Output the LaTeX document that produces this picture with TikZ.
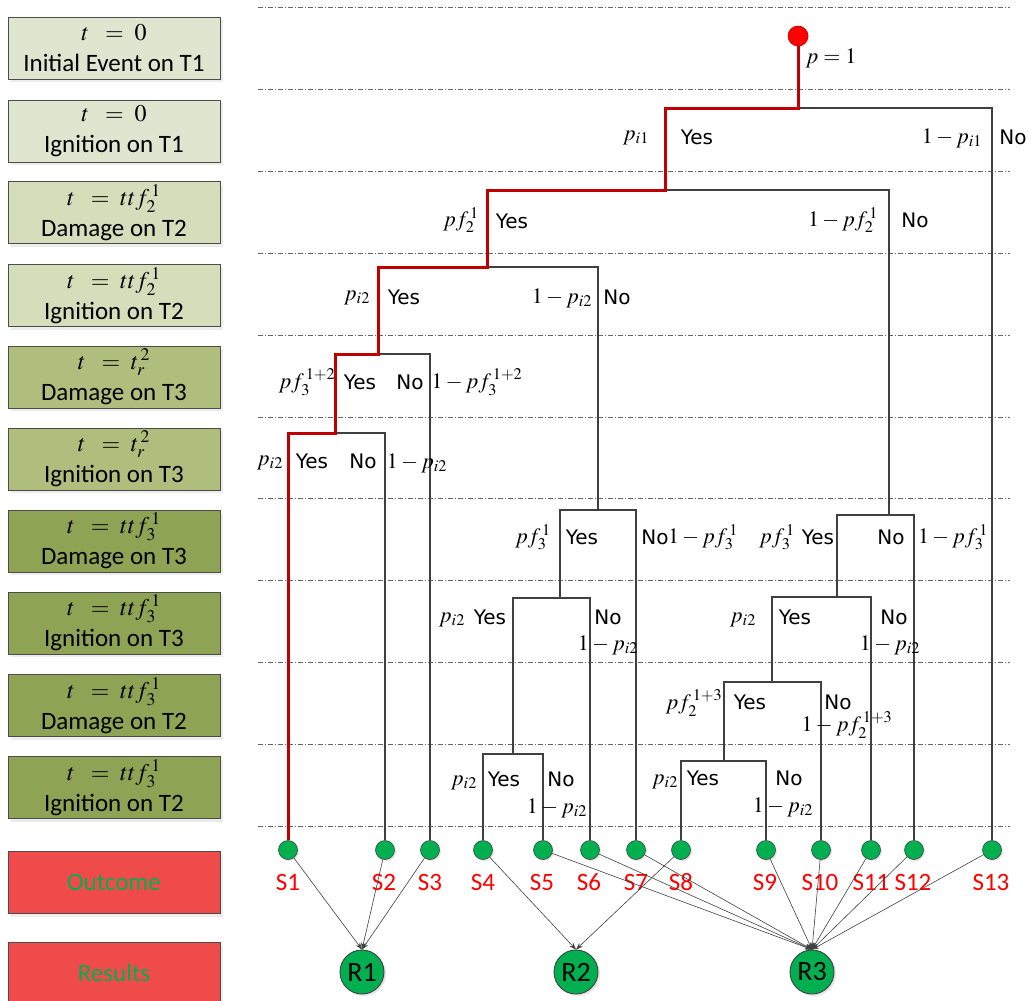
\documentclass[tikz,border=0pt]{standalone}
\usepackage{mathptmx}
\usepackage{fontspec}
\newfontfamily\calfont{Carlito}
\newfontfamily\yesfont{DejaVu Sans}
\usetikzlibrary{arrows.meta,shadows}
\definecolor{lc}{HTML}{404040}
\definecolor{rc}{HTML}{C00000}
\definecolor{ba}{HTML}{DFE5CF}
\definecolor{bb}{HTML}{D5DDBA}
\definecolor{bc}{HTML}{AFBE7C}
\definecolor{bd}{HTML}{8FA355}
\definecolor{rr}{HTML}{F04B4B}
\definecolor{gc}{HTML}{00B050}
\newcommand{\mth}[1]{{\fontsize{24}{26}\selectfont$#1$}}
\begin{document}
\begin{tikzpicture}[x=1pt,y=-1pt,
 dline/.style={draw=black!60, line width=0.7pt, dash pattern=on 5pt off 2pt on 1pt off 2pt},
 br/.style={draw=lc, line width=2pt},
 rb/.style={draw=rc, line width=3pt, line join=miter},
 lbox/.style={draw=black!70, line width=0.8pt, minimum width=212pt, minimum height=62pt, inner sep=0pt, align=center, font=\calfont\fontsize{25}{27}\selectfont, drop shadow={shadow xshift=3pt,shadow yshift=-3pt,fill=black!15}},
 ml/.style={inner sep=0pt, font=\fontsize{22}{24}\selectfont},
 yl/.style={inner sep=0pt, font=\yesfont\fontsize{20}{22}\selectfont},
 sn/.style={circle, draw=lc, fill=gc, minimum size=19pt, inner sep=0pt, line width=0.6pt, drop shadow={shadow xshift=1.5pt,shadow yshift=-1.5pt,fill=black!20}},
 sl/.style={inner sep=0pt, text=red, font=\calfont\fontsize{25}{26}\selectfont},
 rn/.style={circle, draw=lc, fill=gc, minimum size=44pt, inner sep=0pt, line width=0.9pt, font=\calfont\fontsize{28}{29}\selectfont, drop shadow={shadow xshift=2pt,shadow yshift=-2pt,fill=black!20}},
 arr/.style={draw=lc, line width=0.6pt, -{Stealth[length=7pt,width=5pt]}}
]
\useasboundingbox (0,0) rectangle (1029,1001);
% dash-dot level lines
\foreach \yy in {7,89,171,253,335,417,498,580,662,744,826}
  \draw[dline] (258,\yy) -- (1010,\yy);

% left column boxes
\node[lbox, fill=ba] (b1) at (114,48) {\mth{t\;\;=\;0}\\[4pt]Initial Event on T1};
\node[lbox, fill=ba] (b2) at (114,131) {\mth{t\;\;=\;0}\\[4pt]Ignition on T1};
\node[lbox, fill=bb] (b3) at (114,212.5) {\mth{t\;\;=\;ttf_{2}^{\,1}}\\[4pt]Damage on T2};
\node[lbox, fill=bb] (b4) at (114,295.5) {\mth{t\;\;=\;ttf_{2}^{\,1}}\\[4pt]Ignition on T2};
\node[lbox, fill=bc] (b5) at (114,377) {\mth{t\;\;=\;t_{r}^{\,2}}\\[4pt]Damage on T3};
\node[lbox, fill=bc] (b6) at (114,459) {\mth{t\;\;=\;t_{r}^{\,2}}\\[4pt]Ignition on T3};
\node[lbox, fill=bd] (b7) at (114,541) {\mth{t\;\;=\;ttf_{3}^{\,1}}\\[4pt]Damage on T3};
\node[lbox, fill=bd] (b8) at (114,623) {\mth{t\;\;=\;ttf_{3}^{\,1}}\\[4pt]Ignition on T3};
\node[lbox, fill=bd] (b9) at (114,705.5) {\mth{t\;\;=\;ttf_{3}^{\,1}}\\[4pt]Damage on T2};
\node[lbox, fill=bd] (b10) at (114,787.5) {\mth{t\;\;=\;ttf_{3}^{\,1}}\\[4pt]Ignition on T2};
\node[lbox, fill=rr, text=gc] (bout) at (114,882.5) {Outcome};
\node[lbox, fill=rr, text=gc] (bres) at (114,973) {Results};

% root
\node[circle, draw=rc, fill=red, minimum size=20pt, inner sep=0pt, line width=0.6pt, drop shadow={shadow xshift=1.5pt,shadow yshift=-1.5pt,fill=black!20}] (root) at (798,36) {};

% junctions
\coordinate (J1) at (798,108);
\coordinate (J2) at (665,190);
\coordinate (J3) at (487,267);
\coordinate (J4) at (378,354);
\coordinate (J5) at (335,433);
\coordinate (J6) at (598,510);
\coordinate (J7) at (560,598);
\coordinate (J8) at (513,754);
\coordinate (J9) at (889,515);
\coordinate (J10) at (837,597);
\coordinate (J11) at (772,682);
\coordinate (J12) at (724,761);

% outcome nodes
\foreach \n/\xx in {1/288,2/385,3/430,4/483,5/543,6/590,7/636,8/681,9/766,10/821,11/871,12/914,13/992}{
  \node[sn] (S\n) at (\xx,850) {};
}
\foreach \n/\xx in {1/288,2/384,3/430,4/483,5/542,6/589,7/636,8/681,9/765,10/820,11/871,12/913,13/991}{
  \node[sl] (LS\n) at (\xx,882) {S\n};
}

% gray branches
\draw[br] (J1) -| (S13);
\draw[br] (J2) -| (J9);
\draw[br] (J3) -| (J6);
\draw[br] (J4) -| (S3);
\draw[br] (J5) -| (S2);
\draw[br] (J6) -| (S7);
\draw[br] (J6) -| (J7);
\draw[br] (J7) -| (S6);
\draw[br] (J7) -| (J8);
\draw[br] (J8) -| (S4);
\draw[br] (J8) -| (S5);
\draw[br] (J9) -| (S12);
\draw[br] (J9) -| (J10);
\draw[br] (J10) -| (S11);
\draw[br] (J10) -| (J11);
\draw[br] (J11) -| (S10);
\draw[br] (J11) -| (J12);
\draw[br] (J12) -| (S8);
\draw[br] (J12) -| (S9);
% red path
\draw[rb] (root) -- (J1) -| (J2) -| (J3) -| (J4) -| (J5) -| (S1);

% branch labels
\node[ml] (m0) at (831,58) {$p=1$};
\node[ml] (m1) at (636,138) {$p_{i1}$};
\node[yl] (y1) at (697,137) {Yes};
\node[ml] (m2) at (952,138) {$1-p_{i1}$};
\node[yl] (n1) at (1013,137) {No};

\node[ml] (m3) at (461,220) {$pf_{2}^{\,1}$};
\node[yl] (y2) at (512,221) {Yes};
\node[ml] (m4) at (843,220) {$1-pf_{2}^{\,1}$};
\node[yl] (n2) at (915,220) {No};

\node[ml] (m5) at (357,298) {$p_{i2}$};
\node[yl] (y3) at (404,297) {Yes};
\node[ml] (m6) at (562,298) {$1-p_{i2}$};
\node[yl] (n3) at (617,297) {No};

\node[ml] (m7) at (307,382) {$pf_{3}^{\,1+2}$};
\node[yl] (y4) at (360,382) {Yes};
\node[yl] (n4) at (410,382) {No};
\node[ml] (m8) at (477,382) {$1-pf_{3}^{\,1+2}$};

\node[ml] (m9) at (270,463) {$p_{i2}$};
\node[yl] (y5) at (312,461) {Yes};
\node[yl] (n5) at (363,461) {No};
\node[ml] (m10) at (417,463) {$1-p_{i2}$};

\node[ml] (m11) at (533,537) {$pf_{3}^{\,1}$};
\node[yl] (y6) at (582,537) {Yes};
\node[yl] (n6) at (655,537) {No};
\node[ml] (m12) at (703,537) {$1-pf_{3}^{\,1}$};

\node[ml] (m13) at (777,537) {$pf_{3}^{\,1}$};
\node[yl] (y7) at (818,537) {Yes};
\node[yl] (n7) at (891,537) {No};
\node[ml] (m14) at (953,537) {$1-pf_{3}^{\,1}$};

\node[ml] (m15) at (452,620) {$p_{i2}$};
\node[yl] (y8) at (490,617) {Yes};
\node[yl] (n8) at (608,617) {No};
\node[ml] (m16) at (608,645) {$1-p_{i2}$};

\node[ml] (m17) at (743,620) {$p_{i2}$};
\node[yl] (y9) at (795,617) {Yes};
\node[yl] (n9) at (894,617) {No};
\node[ml] (m18) at (890,645) {$1-p_{i2}$};

\node[ml] (m19) at (694,703) {$pf_{2}^{\,1+3}$};
\node[yl] (y10) at (750,702) {Yes};
\node[yl] (n10) at (838,702) {No};
\node[ml] (m20) at (847,725) {$1-pf_{2}^{\,1+3}$};

\node[ml] (m21) at (464,783) {$p_{i2}$};
\node[yl] (y11) at (504,779) {Yes};
\node[yl] (n11) at (561,779) {No};
\node[ml] (m22) at (557,808) {$1-p_{i2}$};

\node[ml] (m23) at (665,782) {$p_{i2}$};
\node[yl] (y12) at (703,778) {Yes};
\node[yl] (n12) at (789,778) {No};
\node[ml] (m24) at (783,807) {$1-p_{i2}$};

% results
\node[rn] (R1) at (362,972) {R1};
\node[rn] (R2) at (576,972) {R2};
\node[rn] (R3) at (812,972) {R3};

\foreach \s in {S1,S2,S3} \draw[arr] (\s) -- (R1.north);
\foreach \s in {S4,S8} \draw[arr] (\s) -- (R2.north);
\foreach \s in {S5,S6,S7,S9,S10,S11,S12,S13} \draw[arr] (\s) -- (R3.north);
\end{tikzpicture}
\end{document}
